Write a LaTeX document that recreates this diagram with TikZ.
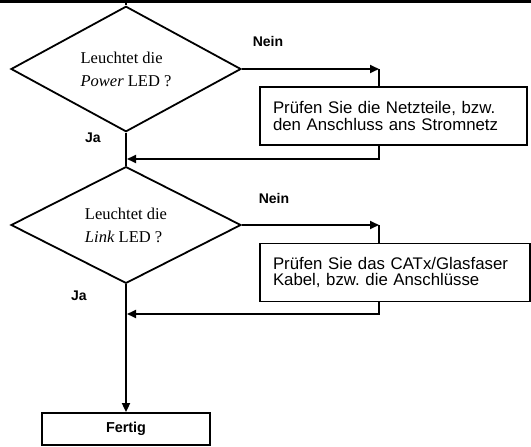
\documentclass[tikz,border=0pt]{standalone}
\usepackage{fontspec}
\setmainfont{Liberation Serif}
\setsansfont{Liberation Sans}
\usetikzlibrary{shapes.geometric,arrows.meta}
\frenchspacing
\tikzset{
  frage/.style={diamond,draw,line width=1.8pt,minimum width=230pt,minimum height=103pt,inner sep=0pt,align=left,font=\fontsize{16.5}{23}\selectfont},
  pruef/.style={draw,line width=1.8pt,inner xsep=13pt,minimum height=58pt,align=left,font=\sffamily\fontsize{16.8}{16.5}\selectfont},
  antwort/.style={font=\sffamily\bfseries\fontsize{14}{16}\selectfont},
  pfeil/.style={-{Triangle[length=9pt,width=8pt]}},
}
\begin{document}
\begin{tikzpicture}[x=1pt,y=-1pt,line width=1.8pt]
\useasboundingbox (0,0) rectangle (531,447);
% top line
\coordinate (L) at (0,1.5);
\coordinate (R) at (531,1.5);
\draw[line width=2.5pt] (L) -- (R);
\coordinate (T) at (126,1.5);

% first question
\node[frage] (D1) at (126,69) {Leuchtet die\\\textit{Power} LED ?};
\node[pruef,text width=241pt] (B1) at (393.5,116) {Prüfen Sie die Netzteile, bzw.\\den Anschluss ans Stromnetz};
\node[antwort] (N1) at (268,41) {Nein};
\node[antwort] (J1) at (93,138) {Ja};
\coordinate (K1) at (379,69);
\coordinate (R1) at (379,159);
\coordinate (M1) at (127,159);
\draw (T) -- (D1.north);
\draw[pfeil] (D1.east) -- (K1);
\draw (K1) -- (K1 |- B1.north);
\draw[pfeil] (K1 |- B1.south) -- (R1) -- (M1);

% second question
\node[frage] (D2) at (126,225) {Leuchtet die\\\textit{Link} LED ?};
\node[pruef,text width=244pt] (B2) at (395,272.5) {Prüfen Sie das CATx/Glasfaser\\Kabel, bzw. die Anschlüsse};
\node[antwort] (N2) at (274,198) {Nein};
\node[antwort] (J2) at (79,296) {Ja};
\coordinate (K2) at (379,225);
\coordinate (R2) at (379,314);
\coordinate (M2) at (127,314);
\draw (D1.south) -- (D2.north);
\draw[pfeil] (D2.east) -- (K2);
\draw (K2) -- (K2 |- B2.north);
\draw[pfeil] (K2 |- B2.south) -- (R2) -- (M2);

% end
\node[draw,minimum width=168pt,minimum height=32pt,font=\sffamily\bfseries\fontsize{14.4}{16}\selectfont] (F) at (126,429) {Fertig};
\draw[pfeil] (D2.south) -- (F.north);
\end{tikzpicture}
\end{document}
